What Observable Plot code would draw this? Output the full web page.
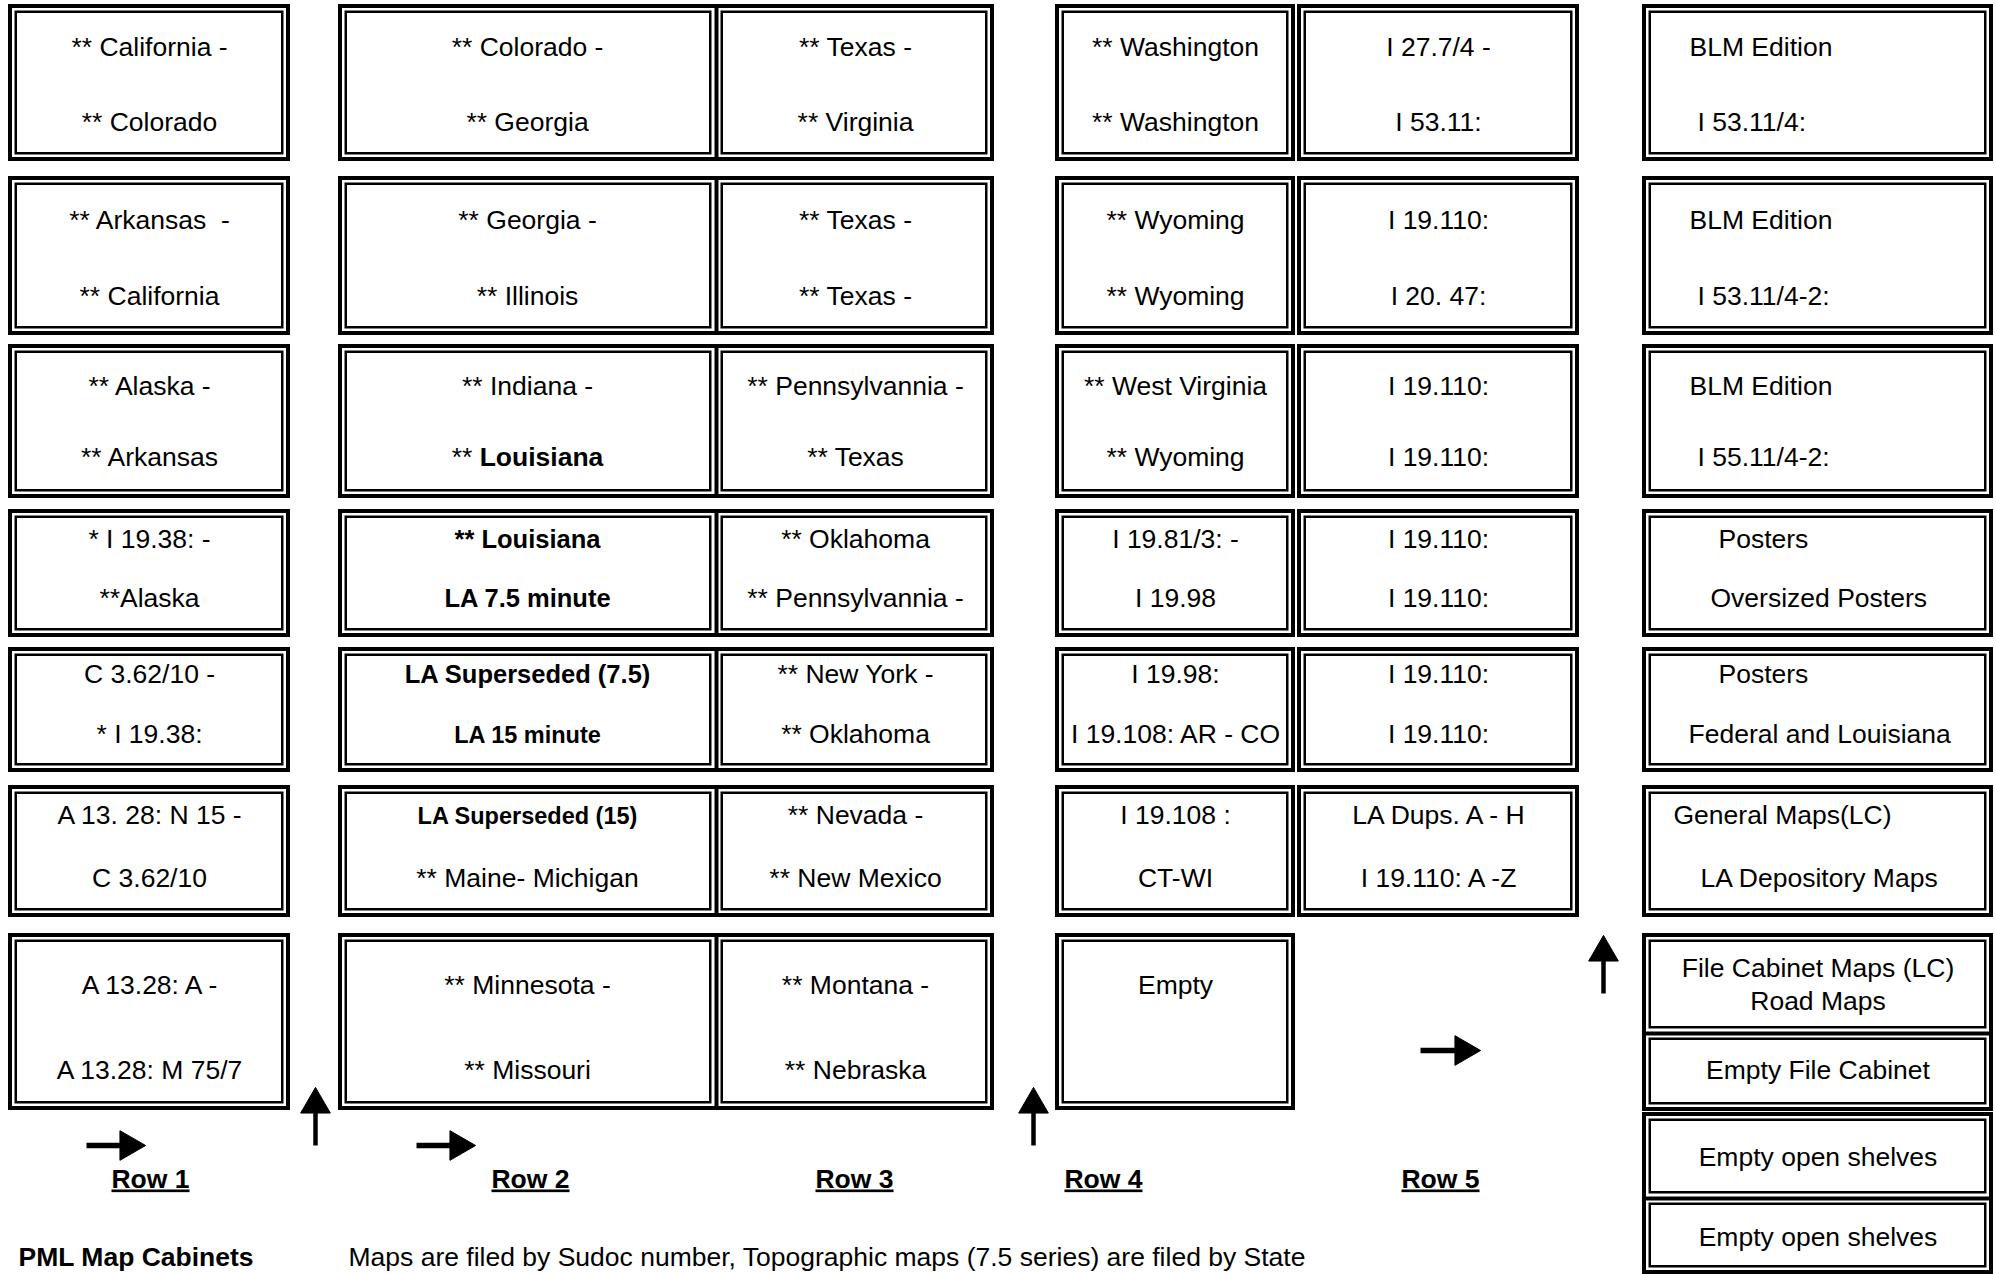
<!DOCTYPE html>
<html><head><meta charset="utf-8">
<script src="https://cdn.jsdelivr.net/npm/d3@7"></script>
<script src="https://cdn.jsdelivr.net/npm/@observablehq/plot@0.6"></script>
<style>
html,body{margin:0;padding:0;background:#fff;}
#chart svg{display:block;}
svg text{white-space:pre;}
</style></head><body><div id="chart"></div>
<script>
// ---------------- data ----------------
const cabinets = ["Row 1", "Row 2", "Row 3", "Row 4", "Row 5"];
const row1Labels = [
  ["** California -", "** Colorado"],
  ["** Arkansas  -", "** California"],
  ["** Alaska -", "** Arkansas"],
  ["* I 19.38: -", "**Alaska"],
  ["C 3.62/10 -", "* I 19.38:"],
  ["A 13. 28: N 15 -", "C 3.62/10"],
  ["A 13.28: A -", "A 13.28: M 75/7"]
];
const row2Labels = [
  ["** Colorado -", "** Georgia"],
  ["** Georgia -", "** Illinois"],
  ["** Indiana -", "** Louisiana"],
  ["** Louisiana", "LA 7.5 minute"],
  ["LA Superseded (7.5)", "LA 15 minute"],
  ["LA Superseded (15)", "** Maine- Michigan"],
  ["** Minnesota -", "** Missouri"]
];
const row3Labels = [
  ["** Texas -", "** Virginia"],
  ["** Texas -", "** Texas -"],
  ["** Pennsylvannia -", "** Texas"],
  ["** Oklahoma", "** Pennsylvannia -"],
  ["** New York -", "** Oklahoma"],
  ["** Nevada -", "** New Mexico"],
  ["** Montana -", "** Nebraska"]
];
const row4Labels = [
  ["** Washington", "** Washington"],
  ["** Wyoming", "** Wyoming"],
  ["** West Virginia", "** Wyoming"],
  ["I 19.81/3: -", "I 19.98"],
  ["I 19.98:", "I 19.108: AR - CO"],
  ["I 19.108 :", "CT-WI"],
  ["Empty", ""]
];
const row5Labels = [
  ["I 27.7/4 -", "I 53.11:"],
  ["I 19.110:", "I 20. 47:"],
  ["I 19.110:", "I 19.110:"],
  ["I 19.110:", "I 19.110:"],
  ["I 19.110:", "I 19.110:"],
  ["LA Dups. A - H", "I 19.110: A -Z"]
];
const sideLabels = [
  ["BLM Edition", "I 53.11/4:"],
  ["BLM Edition", "I 53.11/4-2:"],
  ["BLM Edition", "I 55.11/4-2:"],
  ["Posters", "Oversized Posters"],
  ["Posters", "Federal and Louisiana"],
  ["General Maps(LC)", "LA Depository Maps"]
];
const sideStackLabels = ["File Cabinet Maps (LC)\nRoad Maps", "Empty File Cabinet", "Empty open shelves", "Empty open shelves"];
// [cabinet, drawer index, line index]
const boldCells = [["Row 2", 3, 0], ["Row 2", 3, 1], ["Row 2", 4, 0]];
const smallBoldCells = [["Row 2", 4, 1], ["Row 2", 5, 0]];
const partlyBoldCells = [["Row 2", 2, 1, "Louisiana"]];
const footerTitle = "PML Map Cabinets";
const footerNote = "Maps are filed by Sudoc number, Topographic maps (7.5 series) are filed by State";

// ---------------- layout ----------------
const W = 1996, H = 1274;
const drawerTop = [4, 176, 344, 509, 647, 785, 933];
const drawerBottom = [161, 335, 498, 637, 772, 917, 1110];
const lineBase = [[51, 126], [52, 128], [50, 121], [38, 97], [35, 95], [38, 101], [60, 145]];
const columns = {"Row 1": [8, 290], "Row 2": [338, 716], "Row 3": [716, 994], "Row 4": [1055, 1295], "Row 5": [1297, 1579], "Side": [1642, 1993]};
const sideIndent = [[1689, 1697], [1689, 1697], [1689, 1697], [1718, 1710], [1718, 1688], [1673, 1700]];
const sideStack = [[933, 1033, 1111], [1112, 1198, 1274]];
const stackBase = [[1009, 1078], [1165, 1245]];   // baseline of the last line of each label
const rowLabelX = [150, 530, 854, 1103, 1440];
const rowLabelBase = 1187;
const arrowSegs = [
  {x1: 86, y1: 1145, x2: 136, y2: 1145, dir: "right"},
  {x1: 416, y1: 1145, x2: 466, y2: 1145, dir: "right"},
  {x1: 1420, y1: 1050, x2: 1471, y2: 1050, dir: "right"},
  {x1: 315, y1: 1145, x2: 315, y2: 1096, dir: "up"},
  {x1: 1033, y1: 1145, x2: 1033, y2: 1096, dir: "up"},
  {x1: 1603, y1: 993, x2: 1603, y2: 944, dir: "up"}
];
const footerPos = {titleX: 18, noteX: 348, base: 1265};

// ---------------- geometry ----------------
const outerRects = [], innerRects = [], vDividers = [], hDividers = [];
const EO = 7.75, ED = 5.75;
function box(x1, x2, y1, y2, vcuts = [], hcuts = []) {
  outerRects.push({x1: x1 + 2, x2: x2 - 2, y1: y1 + 2, y2: y2 - 2});
  const xs = [x1, ...vcuts, x2], ys = [y1, ...hcuts, y2];
  for (let i = 0; i < xs.length - 1; i++) for (let j = 0; j < ys.length - 1; j++) {
    innerRects.push({
      x1: xs[i] + (i === 0 ? EO : ED), x2: xs[i + 1] - (i === xs.length - 2 ? EO : ED),
      y1: ys[j] + (j === 0 ? EO : ED), y2: ys[j + 1] - (j === ys.length - 2 ? EO : ED)
    });
  }
  vcuts.forEach(c => vDividers.push({x: c, y1: y1 + 2, y2: y2 - 2}));
  hcuts.forEach(c => hDividers.push({y: c, x1: x1 + 2, x2: x2 - 2}));
}
for (let d = 0; d < 7; d++) {
  const t = drawerTop[d], b = drawerBottom[d];
  box(columns["Row 1"][0], columns["Row 1"][1], t, b);
  box(columns["Row 2"][0], columns["Row 3"][1], t, b, [columns["Row 2"][1]]);
  box(columns["Row 4"][0], columns["Row 4"][1], t, b);
  if (d < row5Labels.length) box(columns["Row 5"][0], columns["Row 5"][1], t, b);
  if (d < sideLabels.length) box(columns["Side"][0], columns["Side"][1], t, b);
}
sideStack.forEach(([t, m, b]) => box(columns["Side"][0], columns["Side"][1], t, b, [], [m]));

// ---------------- texts ----------------
const FONT = 26.5;
const labelSets = {"Row 1": row1Labels, "Row 2": row2Labels, "Row 3": row3Labels, "Row 4": row4Labels, "Row 5": row5Labels};
const has = (list, c, d, k) => list.some(e => e[0] === c && e[1] === d && e[2] === k);
const texts = [];
cabinets.forEach(c => {
  const [a, b] = columns[c];
  labelSets[c].forEach((pair, d) => pair.forEach((t, k) => {
    if (!t) return;
    const style = has(boldCells, c, d, k) ? "bold" : has(smallBoldCells, c, d, k) ? "small" : has(partlyBoldCells, c, d, k) ? "partly" : "normal";
    texts.push({text: t, x: (a + b) / 2, y: drawerTop[d] + lineBase[d][k], style});
  }));
});
const sideTexts = [];
sideLabels.forEach((pair, d) => pair.forEach((t, k) => sideTexts.push({text: t, x: sideIndent[d][k], y: drawerTop[d] + lineBase[d][k]})));
const sideCx = (columns.Side[0] + columns.Side[1]) / 2;
const stackTexts = [];
sideStack.forEach((grp, g) => {
  stackTexts.push({text: sideStackLabels[g * 2], x: sideCx, y: stackBase[g][0]});
  stackTexts.push({text: sideStackLabels[g * 2 + 1], x: sideCx, y: stackBase[g][1]});
});
const rowLabels = cabinets.map((c, i) => ({text: c, x: rowLabelX[i], y: rowLabelBase}));

// arrow heads as filled triangles, shafts as links
const heads = arrowSegs.map(a => ({x: a.x2 + (a.dir === "right" ? -8 : 0), y: a.y2 + (a.dir === "up" ? 8 : 0), rot: a.dir === "right" ? 90 : 0}));
const shafts = arrowSegs.map(a => ({x1: a.x1, y1: a.y1, x2: a.x2 + (a.dir === "right" ? -10 : 0), y2: a.y2 + (a.dir === "up" ? 10 : 0), w: a.dir === "right" ? 5.5 : 4.5}));

const chart = Plot.plot({
  width: W, height: H, margin: 0,
  x: {domain: [0, W], range: [0, W], axis: null},
  y: {domain: [0, H], range: [0, H], axis: null},
  style: {fontFamily: "'Liberation Sans', Arial, sans-serif", background: "white", color: "black"},
  marks: [
    Plot.rect(outerRects, {x1: "x1", x2: "x2", y1: "y1", y2: "y2", fill: "white", stroke: "black", strokeWidth: 4}),
    Plot.rect(innerRects, {x1: "x1", x2: "x2", y1: "y1", y2: "y2", fill: "none", stroke: "black", strokeWidth: 2.5}),
    Plot.ruleX(vDividers, {x: "x", y1: "y1", y2: "y2", stroke: "black", strokeWidth: 4}),
    Plot.ruleY(hDividers, {y: "y", x1: "x1", x2: "x2", stroke: "black", strokeWidth: 4}),
    Plot.text(texts.filter(d => d.style === "normal" || d.style === "partly"), {x: "x", y: "y", text: "text", textAnchor: "middle", lineAnchor: "bottom", fontSize: FONT, fill: "black"}),
    Plot.text(texts.filter(d => d.style === "bold"), {x: "x", y: "y", text: "text", textAnchor: "middle", lineAnchor: "bottom", fontSize: 25.5, fontWeight: "bold", fill: "black"}),
    Plot.text(texts.filter(d => d.style === "small"), {x: "x", y: "y", text: "text", textAnchor: "middle", lineAnchor: "bottom", fontSize: 23.5, fontWeight: "bold", fill: "black"}),
    Plot.text(sideTexts, {x: "x", y: "y", text: "text", textAnchor: "start", lineAnchor: "bottom", fontSize: FONT, fill: "black"}),
    Plot.text(stackTexts, {x: "x", y: "y", text: "text", textAnchor: "middle", lineAnchor: "bottom", lineHeight: 1.21, fontSize: FONT, fill: "black"}),
    Plot.text(rowLabels, {x: "x", y: "y", text: "text", textAnchor: "middle", lineAnchor: "bottom", fontSize: FONT, fontWeight: "bold", fill: "black"}),
    Plot.text([footerTitle], {x: footerPos.titleX, y: footerPos.base, text: d => d, textAnchor: "start", lineAnchor: "bottom", fontSize: FONT, fontWeight: "bold", fill: "black"}),
    Plot.text([footerNote], {x: footerPos.noteX, y: footerPos.base, text: d => d, textAnchor: "start", lineAnchor: "bottom", fontSize: FONT, fill: "black"}),
    Plot.link(shafts, {x1: "x1", y1: "y1", x2: "x2", y2: "y2", stroke: "black", strokeWidth: "w"}),
    Plot.dot(heads, {x: "x", y: "y", symbol: "triangle", r: 11, rotate: "rot", fill: "black", stroke: "black", strokeWidth: 1})
  ]
});
document.getElementById("chart").appendChild(chart);

// underline the row labels, partial bold
const sel = d3.select(chart);
sel.selectAll("text").filter(function () { return cabinets.includes(this.textContent); })
  .style("text-decoration", "underline");
partlyBoldCells.forEach(([c, d, k, boldPart]) => {
  const full = labelSets[c][d][k];
  sel.selectAll("text").filter(function () {
    const g = this.parentNode;
    return this.textContent === full && !(g.getAttribute("font-weight") === "bold");
  }).each(function () {
    const plain = full.slice(0, full.indexOf(boldPart));
    this.textContent = "";
    d3.select(this).append("tspan").text(plain);
    d3.select(this).append("tspan").attr("font-weight", "bold").text(boldPart);
  });
});
</script></body></html>
